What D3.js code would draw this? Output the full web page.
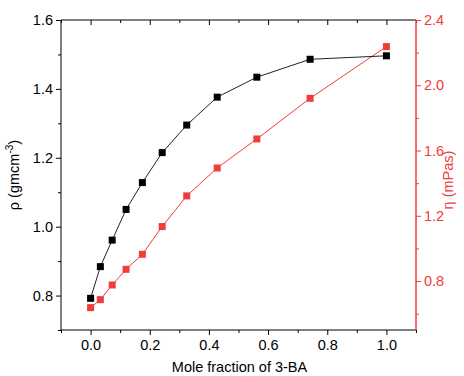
<!DOCTYPE html>
<html>
<head>
<meta charset="utf-8">
<script src="https://cdn.jsdelivr.net/npm/d3@7"></script>
<style>
  html, body { margin: 0; padding: 0; background: #fff; }
  svg { display: block; font-family: "Liberation Sans", Arial, sans-serif; }
</style>
</head>
<body>
<svg id="chart" width="464" height="376"></svg>
<script>
// ---- data ----
const moleFraction = [0, 0.033, 0.073, 0.12, 0.175, 0.242, 0.325, 0.428, 0.562, 0.742, 1.0];
const density      = [0.792, 0.884, 0.961, 1.050, 1.128, 1.215, 1.295, 1.376, 1.434, 1.486, 1.496];
const viscosity    = [0.637, 0.686, 0.776, 0.872, 0.964, 1.134, 1.322, 1.493, 1.671, 1.920, 2.237];
const xTicks  = [0.0, 0.2, 0.4, 0.6, 0.8, 1.0];
const yLTicks = [0.8, 1.0, 1.2, 1.4, 1.6];
const yRTicks = [0.8, 1.2, 1.6, 2.0, 2.4];

const RED = "#f23c3c";
const FS = "14.5px";
const svg = d3.select("#chart");
const m = { left: 61, right: 416, top: 20, bottom: 330 };

const x  = d3.scaleLinear().domain([-0.1, 1.1]).range([m.left, m.right]);
const yL = d3.scaleLinear().domain([0.7, 1.6]).range([m.bottom, m.top]);
const yR = d3.scaleLinear().domain([0.5, 2.4]).range([m.bottom, m.top]);

const xMinor  = d3.range(-0.1, 1.1001, 0.1).map(v => +v.toFixed(2)).filter(v => !xTicks.some(t => Math.abs(t - v) < 1e-6));
const yLMinor = d3.range(0.7, 1.6001, 0.1).map(v => +v.toFixed(2)).filter(v => !yLTicks.some(t => Math.abs(t - v) < 1e-6));
const yRMinor = d3.range(0.6, 2.4001, 0.2).map(v => +v.toFixed(2)).filter(v => !yRTicks.some(t => Math.abs(t - v) < 1e-6));

function styleAxis(g, color) {
  g.selectAll("path, line").attr("stroke", color).attr("stroke-width", 1);
  g.selectAll("text").attr("fill", color).style("font-size", FS);
  g.select(".domain").remove();
}

// bottom axis
const gB = svg.append("g").attr("transform", `translate(0,${m.bottom})`);
gB.call(d3.axisBottom(x).tickValues(xTicks).tickFormat(d3.format(".1f")).tickSizeOuter(0).tickSize(5).tickPadding(5));
styleAxis(gB, "#000");
gB.append("g").call(d3.axisBottom(x).tickValues(xMinor).tickFormat("").tickSize(3))
  .call(g => { g.select(".domain").remove(); g.selectAll("line").attr("stroke", "#000"); });

// top axis (inward ticks)
const gT = svg.append("g").attr("transform", `translate(0,${m.top})`);
gT.call(d3.axisBottom(x).tickValues(xTicks).tickFormat("").tickSize(5));
styleAxis(gT, "#000");
gT.append("g").call(d3.axisBottom(x).tickValues(xMinor).tickFormat("").tickSize(3))
  .call(g => { g.select(".domain").remove(); g.selectAll("line").attr("stroke", "#000"); });

// left axis
const gL = svg.append("g").attr("transform", `translate(${m.left},0)`);
gL.call(d3.axisLeft(yL).tickValues(yLTicks).tickFormat(d3.format(".1f")).tickSize(5).tickPadding(3));
styleAxis(gL, "#000");
gL.append("g").call(d3.axisLeft(yL).tickValues(yLMinor).tickFormat("").tickSize(3))
  .call(g => { g.select(".domain").remove(); g.selectAll("line").attr("stroke", "#000"); });

// right axis
const gR = svg.append("g").attr("transform", `translate(${m.right},0)`);
gR.call(d3.axisRight(yR).tickValues(yRTicks).tickFormat(d3.format(".1f")).tickSize(5).tickPadding(3));
styleAxis(gR, RED);
gR.append("g").call(d3.axisRight(yR).tickValues(yRMinor).tickFormat("").tickSize(3))
  .call(g => { g.select(".domain").remove(); g.selectAll("line").attr("stroke", RED); });

// frame lines
svg.append("line").attr("x1", m.left).attr("x2", m.right).attr("y1", m.top).attr("y2", m.top).attr("stroke", "#000");
svg.append("line").attr("x1", m.left).attr("x2", m.right).attr("y1", m.bottom).attr("y2", m.bottom).attr("stroke", "#000");
svg.append("line").attr("x1", m.left).attr("x2", m.left).attr("y1", m.top).attr("y2", m.bottom).attr("stroke", "#000");
svg.append("line").attr("x1", m.right).attr("x2", m.right).attr("y1", m.top).attr("y2", m.bottom).attr("stroke", RED).attr("stroke-width", 1.5);

// series
const idx = d3.range(moleFraction.length);
const lineL = d3.line().x(i => x(moleFraction[i])).y(i => yL(density[i]));
const lineR = d3.line().x(i => x(moleFraction[i])).y(i => yR(viscosity[i]));

svg.append("path").attr("d", lineR(idx)).attr("fill", "none").attr("stroke", RED).attr("stroke-width", 1);
svg.append("path").attr("d", lineL(idx)).attr("fill", "none").attr("stroke", "#222").attr("stroke-width", 1);

const S = 7;
svg.append("g").selectAll("rect").data(idx).join("rect")
  .attr("x", i => x(moleFraction[i]) - S / 2).attr("y", i => yR(viscosity[i]) - S / 2)
  .attr("width", S).attr("height", S).attr("fill", RED);
svg.append("g").selectAll("rect").data(idx).join("rect")
  .attr("x", i => x(moleFraction[i]) - S / 2).attr("y", i => yL(density[i]) - S / 2)
  .attr("width", S).attr("height", S).attr("fill", "#000");

// axis titles
svg.append("text").attr("x", (m.left + m.right) / 2 + 1).attr("y", 372)
  .attr("text-anchor", "middle").style("font-size", FS).text("Mole fraction of 3-BA");

const tl = svg.append("text").attr("transform", "translate(19,175) rotate(-90)")
  .attr("text-anchor", "middle").style("font-size", FS).attr("fill", "#000");
tl.append("tspan").text("ρ (gmcm");
tl.append("tspan").attr("dy", -6).style("font-size", "10px").text("-3");
tl.append("tspan").attr("dy", 6).text(")");

svg.append("text").attr("transform", "translate(453,180) rotate(-90)")
  .attr("text-anchor", "middle").style("font-size", FS).attr("fill", RED).text("η (mPas)");
</script>
</body>
</html>
